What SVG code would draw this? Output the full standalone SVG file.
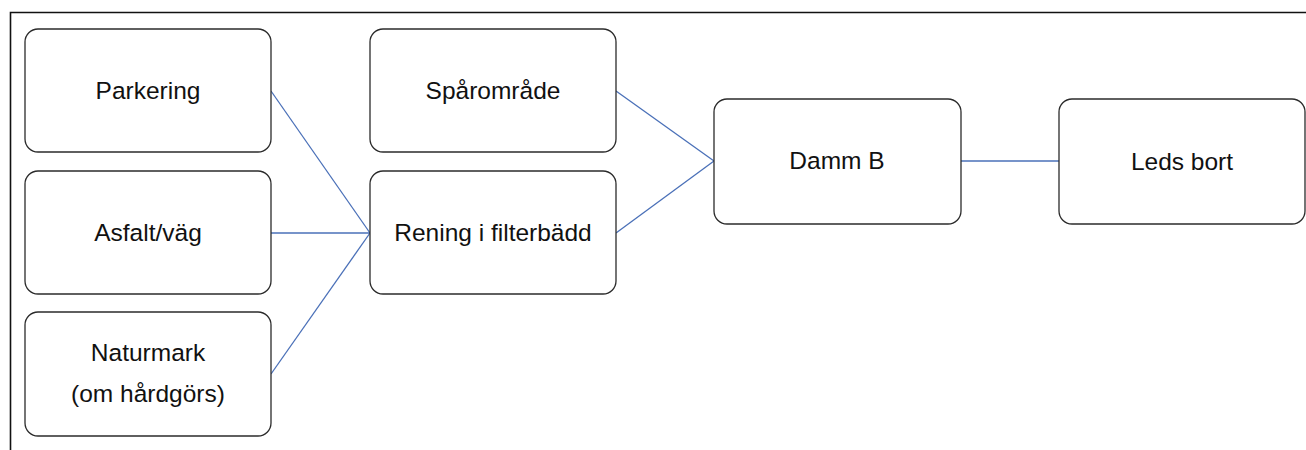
<svg xmlns="http://www.w3.org/2000/svg" width="1306" height="450" viewBox="0 0 1306 450">
<style>
.box{fill:#fff;stroke:#2b2b2b;stroke-width:1.3}
.t{font-family:"Liberation Sans",Arial,sans-serif;font-size:24.5px;fill:#111;text-anchor:middle}
.c{stroke:#4a70b8;stroke-width:1.3;fill:none}
</style>
<rect width="1306" height="450" fill="#fff"/>
<path d="M10.5 450 V12.5 H1306" fill="none" stroke="#111" stroke-width="1.6"/>
<g id="connectors">
<line class="c" x1="271" y1="91" x2="370" y2="233"/>
<line class="c" x1="271" y1="233" x2="370" y2="233"/>
<line class="c" x1="271" y1="374" x2="370" y2="233"/>
<line class="c" x1="616" y1="91" x2="714" y2="161"/>
<line class="c" x1="616" y1="233" x2="714" y2="161"/>
<line class="c" x1="961" y1="161" x2="1059" y2="161"/>
</g>
<g id="parkering"><rect class="box" x="25" y="29" width="246" height="123" rx="13"/><text class="t" x="148" y="99">Parkering</text></g>
<g id="asfalt"><rect class="box" x="25" y="171" width="246" height="123" rx="13"/><text class="t" x="148" y="241">Asfalt/väg</text></g>
<g id="naturmark"><rect class="box" x="25" y="312" width="246" height="124" rx="13"/><text class="t" x="148" y="361">Naturmark</text><text class="t" x="148" y="402">(om hårdgörs)</text></g>
<g id="sparomrade"><rect class="box" x="370" y="29" width="246" height="123" rx="13"/><text class="t" x="493" y="99">Spårområde</text></g>
<g id="rening"><rect class="box" x="370" y="171" width="246" height="123" rx="13"/><text class="t" x="493" y="241">Rening i filterbädd</text></g>
<g id="dammb"><rect class="box" x="714" y="99" width="247" height="125" rx="13"/><text class="t" x="837" y="169">Damm B</text></g>
<g id="ledsbort"><rect class="box" x="1059" y="99" width="246" height="125" rx="13"/><text class="t" x="1182" y="170">Leds bort</text></g>
</svg>
